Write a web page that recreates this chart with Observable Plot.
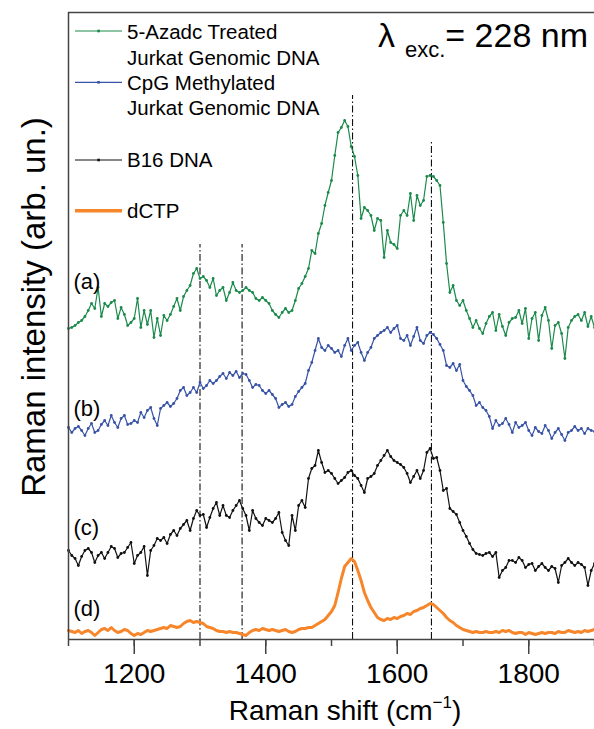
<!DOCTYPE html>
<html><head><meta charset="utf-8">
<script src="https://cdn.jsdelivr.net/npm/d3@7"></script>
<script src="https://cdn.jsdelivr.net/npm/@observablehq/plot@0.6"></script>
<style>
html,body{margin:0;padding:0;background:#fff;}
#chart svg{display:block;}
</style></head><body><div id="chart"></div>
<script>
const SHIFT_START = 1100, SHIFT_STEP = 5;

// (a) 5-Azadc treated Jurkat genomic DNA (offset, arb. un.)
const azadc = [
311,312,314,317,319,323,329,336,331,352,323,336,333,337,339,321,332,325,314,317,
321,341,312,329,315,329,302,321,304,324,319,325,333,341,329,343,349,354,366,371,
361,363,359,352,361,344,349,352,339,347,357,349,347,349,352,349,347,341,339,342,
339,336,329,325,322,327,331,327,329,339,351,356,363,371,389,386,406,416,434,447,
459,484,507,512,519,513,493,483,464,421,432,429,424,409,421,419,382,409,397,395,
391,424,429,424,446,419,444,434,439,463,464,463,459,454,417,376,347,354,339,334,
339,329,321,312,319,311,306,316,323,327,309,325,313,304,317,321,322,329,316,331,
301,321,327,299,324,332,319,291,314,317,306,281,312,319,323,325,319,327,313,323,
312];
// (b) CpG methylated Jurkat genomic DNA
const cpg = [
212,207,211,213,209,204,211,216,207,209,215,219,214,224,217,212,221,224,215,216,
219,217,227,222,229,232,221,214,231,234,237,233,236,241,249,252,244,247,252,247,
257,251,254,259,256,259,263,266,261,267,264,268,262,266,265,259,252,255,254,249,
246,249,245,241,232,235,237,233,235,243,248,252,256,269,277,289,301,292,289,294,
291,287,289,283,294,301,289,294,297,287,279,287,292,301,304,307,309,312,307,311,
314,301,299,304,294,303,312,299,296,304,307,305,301,295,289,274,272,276,269,275,
259,253,249,244,234,237,232,229,223,211,219,214,216,221,215,207,217,212,214,217,
209,204,212,208,206,214,209,201,207,211,205,199,207,209,213,209,211,206,211,209,
208];
// (c) B16 DNA
const b16 = [
89,84,81,74,83,89,91,87,77,84,87,81,87,93,91,82,86,87,92,97,
76,84,87,93,64,89,94,101,99,102,96,105,109,104,111,115,119,109,121,129,
124,125,112,122,131,137,124,134,124,122,129,134,139,131,124,109,129,121,117,114,
121,119,117,121,127,107,99,94,124,109,134,139,132,161,171,174,189,177,167,169,
166,161,156,159,162,167,169,164,161,154,147,161,163,166,174,179,184,189,183,179,
177,175,172,166,157,163,169,161,169,187,191,181,182,169,149,151,131,128,125,117,
109,103,96,90,86,85,84,86,87,83,87,62,69,72,79,79,77,82,79,72,
75,76,69,73,76,72,69,73,71,57,74,77,81,77,74,77,75,72,54,69,
76];
// (d) dCTP
const dctp = [
9,8,7,9,6,8,9,7,4,7,10,11,9,12,9,7,8,10,9,6,
4,6,5,7,9,8,9,10,11,12,11,14,13,12,13,16,18,19,17,18,
17,16,13,12,11,9,8,8,7,8,7,7,6,5,4,7,9,10,9,11,
10,9,10,9,8,9,10,8,7,8,10,11,11,12,12,14,16,18,20,24,
28,34,47,61,73,77,81,78,69,59,47,39,32,27,22,20,19,21,20,22,
21,23,24,26,25,28,29,31,32,34,36,35,32,29,26,22,19,17,14,12,
10,9,8,7,8,7,7,8,7,7,8,7,9,8,9,7,6,7,7,5,
7,6,5,6,7,6,7,7,6,8,7,7,9,8,7,8,7,9,8,9,
10];

const seriesLabels = [["5-Azadc Treated","Jurkat Genomic DNA"],["CpG Methylated","Jurkat Genomic DNA"],["B16 DNA"],["dCTP"]];
const seriesColors = ["#1b8a4b","#3853a6","#111111","#f7862b"];
const seriesTags = ["(a)","(b)","(c)","(d)"];
const tagHeights = [358, 231, 112, 31];
const peakShifts = [1300, 1364, 1532, 1652];
const peakTops = [395, 395, 544, 499];
const majorTicks = [1200, 1400, 1600, 1800];
const minorTicks = [1100, 1200, 1300, 1400, 1500, 1600, 1700, 1800, 1900];
const xDomain = [1100, 1900];
const yDomain = [0, 627];

const spectra = [azadc, cpg, b16, dctp];
const rowsOf = (vals) => vals.map((v, i) => ({shift: SHIFT_START + i * SHIFT_STEP, intensity: v}));
const peakRows = peakShifts.map((s, i) => ({shift: s, top: peakTops[i]}));
const tagRows = seriesTags.map((t, i) => ({tag: t, h: tagHeights[i]}));

const FONT = "'Liberation Sans', Arial, Helvetica, sans-serif";

const marks = [
  Plot.ruleX(peakRows, {x: "shift", y1: () => 0, y2: "top", stroke: "#111", strokeWidth: 1.1, strokeDasharray: "7,2.5,1.5,2.5"}),
];
spectra.forEach((vals, s) => {
  const rows = rowsOf(vals);
  if (s === 3) {
    marks.push(Plot.line(rows, {x: "shift", y: "intensity", stroke: seriesColors[s], strokeWidth: 3}));
  } else {
    marks.push(Plot.line(rows, {x: "shift", y: "intensity", stroke: seriesColors[s], strokeWidth: 1.2}));
    marks.push(Plot.dot(rows, {x: "shift", y: "intensity", r: 1.4, fill: seriesColors[s], stroke: null}));
  }
});
marks.push(
  Plot.text(tagRows, {x: () => xDomain[0], y: "h", text: "tag", dx: 5, textAnchor: "start", lineAnchor: "middle", fontSize: 22, fill: "#000"}),
  Plot.ruleX([xDomain[0]], {stroke: "#444", strokeWidth: 1.5}),
  Plot.ruleY([yDomain[0]], {stroke: "#444", strokeWidth: 1.5}),
  Plot.ruleY([yDomain[1]], {stroke: "#444", strokeWidth: 1.5}),
  Plot.axisX(minorTicks, {tickSize: 7, tickFormat: () => "", stroke: "#444", strokeWidth: 1.5, label: null}),
  Plot.axisX(majorTicks, {tickSize: 15, tickPadding: 9, fontSize: 28, stroke: "#444", strokeWidth: 1.5, fill: "#000", label: null, tickFormat: d => String(d)})
);

const plot = Plot.plot({
  width: 594, height: 729,
  marginLeft: 68, marginRight: 0, marginTop: 12, marginBottom: 90,
  x: {domain: xDomain, label: null},
  y: {domain: yDomain, axis: null, label: null},
  style: {fontFamily: FONT, background: "#fff", color: "#000"},
  marks
});
document.getElementById("chart").appendChild(plot);

const svg = d3.select(plot);
// y-axis label
svg.append("text").attr("transform", "translate(45,307) rotate(-90)")
  .attr("text-anchor", "middle").attr("font-size", 33).attr("font-family", FONT).attr("fill", "#000")
  .text("Raman intensity (arb. un.)");
// x-axis label with superscript
const xl = svg.append("text").attr("x", 345).attr("y", 720).attr("text-anchor", "middle")
  .attr("font-size", 28).attr("font-family", FONT).attr("fill", "#000");
xl.append("tspan").text("Raman shift (cm");
xl.append("tspan").attr("font-size", 17).attr("dy", -12).text("\u22121");
xl.append("tspan").attr("dy", 12).text(")");
// excitation annotation
const tt = svg.append("text").attr("x", 588).attr("y", 47).attr("text-anchor", "end")
  .attr("font-size", 34).attr("font-family", FONT).attr("fill", "#000");
tt.append("tspan").text("\u03bb");
tt.append("tspan").attr("font-size", 22).attr("dx", 10).attr("dy", 10).text("exc.");
tt.append("tspan").attr("dy", -10).text("= 228 nm");
// legend
const legendLineY = [31, 82.3, 160, 210.7];
const legendTextY = [[39, 65], [90, 115], [166.5], [218]];
const lg = svg.append("g").attr("font-family", FONT).attr("font-size", 20.5).attr("fill", "#000").attr("text-anchor", "start");
seriesLabels.forEach((lines, i) => {
  lg.append("line").attr("x1", 75).attr("x2", 122).attr("y1", legendLineY[i]).attr("y2", legendLineY[i])
    .attr("stroke", seriesColors[i]).attr("stroke-width", i === 3 ? 3.5 : 1.2);
  if (i < 3) lg.append("rect").attr("x", 97.3).attr("y", legendLineY[i] - 1.3).attr("width", 2.6).attr("height", 2.6).attr("fill", seriesColors[i]);
  lines.forEach((t, j) => lg.append("text").attr("x", 127).attr("y", legendTextY[i][j]).attr("text-anchor", "start").text(t));
});
</script></body></html>
